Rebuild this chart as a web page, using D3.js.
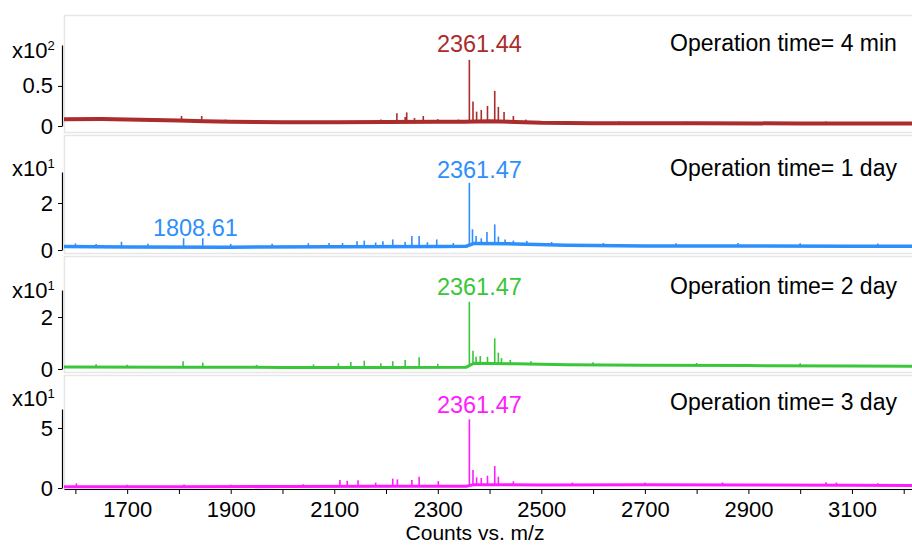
<!DOCTYPE html>
<html>
<head>
<meta charset="utf-8">
<script src="https://cdn.jsdelivr.net/npm/d3@7"></script>
<style>
body { margin: 0; background: #fff; }
text { font-family: Arial, "Liberation Sans", sans-serif; fill: #000; }
</style>
</head>
<body>
<script>
// m/z axis
let xTicks = [1600, 1700, 1800, 1900, 2000, 2100, 2200, 2300, 2400, 2500, 2600, 2700, 2800, 2900, 3000, 3100, 3200];
let xLabels = [1700, 1900, 2100, 2300, 2500, 2700, 2900, 3100];

// one entry per panel, top to bottom
let names = ["Operation time= 4 min", "Operation time= 1 day", "Operation time= 2 day", "Operation time= 3 day"];
let peakNames = ["2361.44", "2361.47", "2361.47", "2361.47"];
let colors = ["#aa2c2c", "#2e8ffc", "#39c639", "#ff1cff"];
let yMax = [101, 33.2, 30.4, 65.8];
let yTickVals = [[0, 50], [0, 20], [0, 20], [0, 50]];
let yExp = [2, 1, 1, 1];

// counts: [m/z, counts]
let base4min = [[1570, 8.5], [1650, 8.6], [1700, 8.2], [1750, 7.5], [1800, 6.8], [1850, 6.0], [1900, 5.2], [2000, 4.8], [2100, 4.6], [2200, 5.0], [2300, 5.2], [2350, 5.4], [2400, 6.0], [2450, 5.0], [2500, 4.0], [2600, 3.5], [2800, 3.4], [3000, 3.2], [3220, 3.0]];
let peaks4min = [[1620, 10.5], [1660, 10.8], [1712, 10], [1760, 9.5], [1805, 12.5], [1844, 12.5], [1890, 8], [1960, 7], [2060, 6.5], [2150, 7], [2190, 8], [2221, 15.9], [2237, 11.3], [2240, 17], [2255, 10], [2272, 12.5], [2300, 8.5], [2340, 8], [2361, 82.5], [2368, 30.4], [2375, 17.9], [2384, 20], [2396, 25], [2410, 43.8], [2417, 23.8], [2428, 17.5], [2446, 12.5], [2470, 8], [2530, 6], [2650, 5.5], [2780, 5.5], [2900, 5], [3050, 5.5], [3130, 5]];

let base1day = [[1570, 1.5], [1700, 1.3], [1900, 1.2], [2100, 1.4], [2300, 1.5], [2355, 1.6], [2370, 2.8], [2450, 2.6], [2550, 2.0], [2700, 1.7], [2900, 1.7], [3100, 1.6], [3220, 1.6]];
let peaks1day = [[1600, 2.8], [1640, 2.6], [1689, 3.5], [1740, 2.7], [1809, 5], [1846, 5], [1900, 2.6], [1980, 2.7], [2050, 2.9], [2090, 3], [2116, 3], [2144, 3.7], [2158, 4], [2180, 3.2], [2194, 3.7], [2213, 4.5], [2237, 3.4], [2250, 6], [2264, 6], [2280, 3.3], [2298, 4.5], [2330, 3], [2361, 28.6], [2367, 8.8], [2374, 6], [2384, 5], [2395, 7.7], [2410, 10.9], [2417, 5.7], [2430, 4.5], [2446, 4], [2472, 3.8], [2520, 3.4], [2620, 3], [2760, 2.9], [2880, 3], [3000, 2.9], [3150, 2.8]];

let base2day = [[1570, 0.8], [1800, 0.7], [2000, 0.6], [2200, 0.6], [2355, 0.7], [2370, 2.2], [2450, 2.0], [2550, 1.6], [2700, 1.4], [2900, 1.3], [3100, 1.2], [3220, 1.1]];
let peaks2day = [[1640, 1.8], [1700, 1.6], [1808, 3], [1846, 2.5], [1950, 1.6], [2060, 1.8], [2108, 2.2], [2132, 2.7], [2158, 3.2], [2190, 2.2], [2213, 3], [2237, 3.5], [2264, 4.5], [2300, 2], [2361, 25.9], [2368, 7], [2374, 4.7], [2382, 5], [2396, 4.7], [2410, 11.8], [2417, 6.3], [2423, 4.2], [2440, 3.5], [2480, 3], [2600, 2.6], [2800, 2.3], [3000, 2.2]];

let base3day = [[1570, 1.0], [1800, 1.0], [2000, 1.2], [2200, 1.4], [2355, 1.5], [2370, 2.8], [2500, 2.6], [2700, 2.8], [2900, 2.6], [3100, 2.2], [3220, 2.0]];
let peaks3day = [[1602, 3.9], [1700, 2.8], [1810, 3], [1900, 2.8], [2040, 3.2], [2111, 6.7], [2125, 6], [2146, 6.5], [2180, 4.5], [2213, 7.8], [2222, 7.2], [2250, 6.7], [2264, 9.4], [2301, 5.8], [2361, 57.2], [2368, 15], [2375, 8.9], [2384, 8.3], [2396, 10.3], [2410, 18.3], [2417, 9.4], [2446, 5.6], [2560, 4.5], [2700, 4.5], [2850, 4.6], [3050, 4.8], [3070, 4.6], [3150, 4]];

let bases = [base4min, base1day, base2day, base3day];
let peaks = [peaks4min, peaks1day, peaks2day, peaks3day];

// layout
let panelTop = [15, 135, 256, 375],
    panelBottom = [132, 253, 372, 489],
    zeroY = [126, 250, 369, 488],
    axisTopY = [45, 172, 290, 409],
    expY = [58, 176, 298, 406],
    labelY = [52, 178, 295, 413],
    opY = [51, 176, 294, 410],
    lineWidth = [4, 3.5, 3, 3];

let width = 912, height = 545, left = 64;

let svg = d3.select("body")
    .append("svg")
    .attr("width", width)
    .attr("height", height);

svg.append("clipPath").attr("id", "plot")
    .append("rect")
    .attr("x", left).attr("y", 0)
    .attr("width", width - left).attr("height", height);

let x = d3.scaleLinear().domain([1578, 3216]).range([left, width]);

panelTop.forEach(function(top, i) {
  svg.append("rect")
     .attr("x", left + 0.5)
     .attr("y", top + 0.5)
     .attr("width", width)
     .attr("height", panelBottom[i] - top)
     .attr("fill", "none")
     .attr("stroke", "#e6e6e6")
     .attr("stroke-width", 1.5);
});

panelTop.forEach(function(top, i) {
  let y = d3.scaleLinear().domain([0, yMax[i]]).range([zeroY[i], axisTopY[i]]);
  // where the trace sits under each spike
  let floor = d3.scaleLinear()
      .domain(bases[i].map(function(d) { return d[0]; }))
      .range(bases[i].map(function(d) { return d[1]; }));
  let g = svg.append("g").attr("clip-path", "url(#plot)");

  g.selectAll("line")
   .data(peaks[i])
   .enter()
   .append("line")
   .attr("x1", function(d) { return x(d[0]); })
   .attr("x2", function(d) { return x(d[0]); })
   .attr("y1", function(d) { return y(floor(d[0])); })
   .attr("y2", function(d) { return y(d[1]); })
   .attr("stroke", colors[i])
   .attr("stroke-width", 1.6);

  g.append("path")
   .datum(bases[i])
   .attr("fill", "none")
   .attr("stroke", colors[i])
   .attr("stroke-width", lineWidth[i])
   .attr("d", d3.line()
      .x(function(d) { return x(d[0]); })
      .y(function(d) { return y(d[1]); }));

  let ax = svg.append("g")
     .attr("transform", "translate(62,0)")
     .call(d3.axisLeft(y)
        .tickValues(yTickVals[i])
        .tickSize(4)
        .tickSizeOuter(0)
        .tickPadding(5)
        .tickFormat(function(d) { return d / Math.pow(10, yExp[i]); }));
  ax.selectAll("text").style("font-size", "22px").attr("fill", "#000");
  ax.select(".domain").attr("stroke-width", 1.2);

  let ex = svg.append("text")
     .attr("x", 12)
     .attr("y", expY[i])
     .style("font-size", "22px")
     .text("x10");
  ex.append("tspan")
    .attr("dy", -8)
    .style("font-size", "13px")
    .text(yExp[i]);

  svg.append("text")
     .attr("x", x(2361) + 10)
     .attr("y", labelY[i])
     .attr("text-anchor", "middle")
     .style("font-size", "23.5px")
     .style("fill", colors[i])
     .text(peakNames[i]);

  svg.append("text")
     .attr("x", 670)
     .attr("y", opY[i])
     .style("font-size", "23px")
     .text(names[i]);
});

// extra label in the 1 day trace
svg.append("text")
   .attr("x", x(1808.61) + 12)
   .attr("y", 236)
   .attr("text-anchor", "middle")
   .style("font-size", "23.5px")
   .style("fill", colors[1])
   .text("1808.61");

let xa = svg.append("g")
   .attr("transform", "translate(0,489)")
   .call(d3.axisBottom(x)
      .tickValues(xTicks)
      .tickSize(5)
      .tickSizeOuter(0)
      .tickPadding(7)
      .tickFormat(function(d) { return xLabels.indexOf(d) >= 0 ? d : ""; }));
xa.selectAll("text").style("font-size", "22px").attr("fill", "#000");
xa.select(".domain").attr("stroke-width", 1.2);

svg.append("text")
   .attr("x", 475)
   .attr("y", 540)
   .attr("text-anchor", "middle")
   .style("font-size", "21px")
   .text("Counts vs. m/z");
</script>
</body>
</html>
